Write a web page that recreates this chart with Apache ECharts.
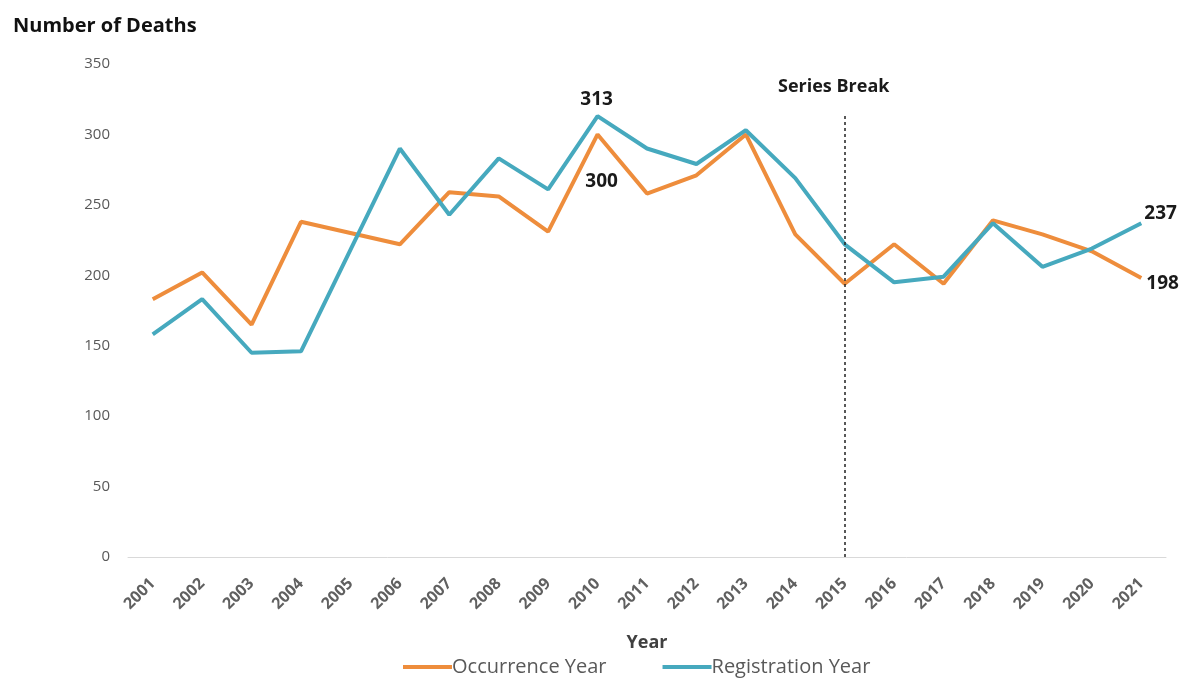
<!DOCTYPE html>
<html>
<head>
<meta charset="utf-8">
<script src="https://cdn.jsdelivr.net/npm/echarts@6/dist/echarts.min.js"></script>
<style>
html,body{margin:0;padding:0;background:#fff;}
#chart{width:1184px;height:679px;}
</style>
</head>
<body>
<div id="chart"></div>
<script>
var years = ['2001','2002','2003','2004','2005','2006','2007','2008','2009','2010','2011','2012','2013','2014','2015','2016','2017','2018','2019','2020','2021'];
var occurrence = [183,202,165,238,230,222,259,256,231,300,258,271,300,229,194,222,194,239,229,217,198];
var registration = [158,183,145,146,218,290,243,283,261,313,290,279,303,269,222,195,199,237,206,219,237];
var yTicks = [0,50,100,150,200,250,300,350];
var breakYear = '2015';
var breakTop = 313;

var FONT = '"Open Sans", "Noto Sans", sans-serif';
var ORANGE = '#EE8D3C';
var BLUE = '#46A9BE';

function buildData(values, labels) {
  return values.map(function (v, i) {
    if (labels[i]) {
      return { value: v, label: Object.assign({ show: true, formatter: String(v), fontFamily: FONT, fontWeight: 'bold', fontSize: 19, color: '#1a1a1a' }, labels[i]) };
    }
    return v;
  });
}

var occLabels = {};
occLabels[9] = { position: 'bottom', distance: 38, offset: [4, 0] };
occLabels[20] = { position: 'right', distance: 5, offset: [0, 5] };
var regLabels = {};
regLabels[9] = { position: 'top', distance: 7, offset: [-1, 0] };
regLabels[20] = { position: 'right', distance: 3, offset: [0, -10] };

var chart = echarts.init(document.getElementById('chart'));
chart.setOption({
  animation: false,
  backgroundColor: '#fff',
  title: {
    text: 'Number of Deaths',
    left: 8, top: 11,
    textStyle: { fontFamily: FONT, fontWeight: 'bold', fontSize: 20, color: '#111' }
  },
  legend: {
    left: 398, top: 652,
    itemWidth: 49, itemHeight: 4, itemGap: 56,
    icon: 'rect',
    textStyle: { fontFamily: FONT, fontSize: 20, color: '#595959', padding: [0, 0, 0, -5] },
    data: ['Occurrence Year', 'Registration Year']
  },
  grid: { left: 128, right: 18, top: 64, bottom: 122, containLabel: false },
  xAxis: {
    type: 'category',
    data: years,
    boundaryGap: true,
    name: 'Year',
    nameLocation: 'middle',
    nameGap: 77,
    nameTextStyle: { fontFamily: FONT, fontWeight: 'bold', fontSize: 18, color: '#404040' },
    axisLine: { lineStyle: { color: '#d9d9d9', width: 1 } },
    axisTick: { show: false },
    axisLabel: { rotate: 45, fontFamily: FONT, fontWeight: 'bold', fontSize: 16, color: '#606060', margin: 24, interval: 0 }
  },
  yAxis: {
    type: 'value',
    min: 0, max: 350, interval: 50,
    axisLine: { show: false },
    axisTick: { show: false },
    splitLine: { show: false },
    axisLabel: { fontFamily: FONT, fontSize: 15, color: '#595959', margin: 18,
      formatter: function (v) { return yTicks.indexOf(v) >= 0 ? String(v) : ''; } }
  },
  series: [
    {
      name: 'Occurrence Year',
      type: 'line',
      data: buildData(occurrence, occLabels),
      symbol: 'circle',
      symbolSize: 0,
      showSymbol: true,
      lineStyle: { color: ORANGE, width: 4 },
      itemStyle: { color: ORANGE },
      z: 2,
      markLine: {
        silent: true,
        symbol: 'none',
        lineStyle: { color: '#222', type: [3, 3], width: 1.5 },
        label: { show: true, position: 'end', formatter: 'Series Break', distance: 20, fontFamily: FONT, fontWeight: 'bold', fontSize: 18, color: '#1a1a1a', offset: [-11, 0] },
        data: [[{ coord: [breakYear, 0] }, { coord: [breakYear, breakTop] }]]
      }
    },
    {
      name: 'Registration Year',
      type: 'line',
      data: buildData(registration, regLabels),
      symbol: 'circle',
      symbolSize: 0,
      showSymbol: true,
      lineStyle: { color: BLUE, width: 4 },
      itemStyle: { color: BLUE },
      z: 3
    }
  ]
});
</script>
</body>
</html>
